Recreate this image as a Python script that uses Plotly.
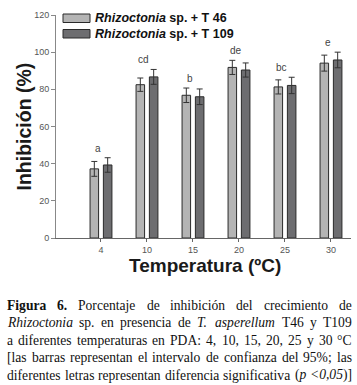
import re
import plotly.graph_objects as go

# ---- data ----
temperaturas = ["4", "10", "15", "20", "25", "30"]
serie_t46 = [37.2, 82.5, 76.8, 91.8, 81.3, 94.1]
error_t46 = [4.0, 3.6, 3.9, 3.8, 3.8, 4.3]
serie_t109 = [39.3, 86.7, 76.0, 90.4, 82.1, 95.8]
error_t109 = [3.9, 4.0, 4.2, 3.8, 4.4, 4.2]
letras = ["a", "cd", "b", "de", "bc", "e"]
nombres = ["<i>Rhizoctonia</i> sp. + T 46", "<i>Rhizoctonia</i> sp. + T 109"]
colores = ["#b4b4b4", "#6d6d70"]
caption_lines = [
    "<b>Figura 6.</b> Porcentaje de inhibición del crecimiento de",
    "<i>Rhizoctonia</i> sp. en presencia de <i>T. asperellum</i> T46 y T109",
    "a diferentes temperaturas en PDA: 4, 10, 15, 20, 25 y 30 °C",
    "[las barras representan el intervalo de confianza del 95%; las",
    "diferentes letras representan diferencia significativa (<i>p <0,05</i>)]",
]

W, H = 357, 385
L, R, T, B = 56, 6, 15, 147
pw, ph = W - L - R, H - T - B

fig = go.Figure()
for vals, errs, col, name in [(serie_t46, error_t46, colores[0], nombres[0]),
                              (serie_t109, error_t109, colores[1], nombres[1])]:
    fig.add_trace(go.Bar(
        x=temperaturas, y=vals, name=name, showlegend=False,
        marker=dict(color=col, line=dict(color="#2a2a2a", width=1)),
        error_y=dict(type="data", array=errs, visible=True, color="#333333",
                     thickness=1, width=3),
    ))

# significance letters
for i, (ltr, a, ea, b, eb) in enumerate(zip(letras, serie_t46, error_t46, serie_t109, error_t109)):
    top = max(a + ea, b + eb)
    fig.add_annotation(x=i, y=top, text=ltr, showarrow=False, xshift=-3, yshift=2,
                       yanchor="bottom", font=dict(size=10, color="#444", family="Liberation Sans"))


def px_x(p):
    return (p - L) / pw


def px_y(p):
    return 1 - (p - T) / ph


# custom legend
for i, (col, name) in enumerate(zip(colores, nombres)):
    y0, y1 = 14 + i * 15.5, 22.5 + i * 15.5
    fig.add_shape(type="rect", xref="paper", yref="paper",
                  x0=px_x(63), x1=px_x(90), y0=px_y(y1), y1=px_y(y0),
                  fillcolor=col, line=dict(color="#2a2a2a", width=1))
    fig.add_annotation(xref="paper", yref="paper", x=px_x(93), y=px_y((y0 + y1) / 2),
                       text="<b>" + name + "</b>", showarrow=False, xanchor="left",
                       yanchor="middle", font=dict(size=12.5, color="#111", family="Liberation Sans"))

# axis titles
fig.add_annotation(xref="paper", yref="paper", x=px_x(23), y=0.5, text="<b>Inhibición (%)</b>",
                   textangle=-90, showarrow=False, xanchor="center", yanchor="middle",
                   font=dict(size=19.5, color="#1a1a1a", family="Liberation Sans"))
fig.add_annotation(xref="paper", yref="paper", x=px_x(205), y=px_y(265), text="<b>Temperatura (ºC)</b>",
                   showarrow=False, xanchor="center", yanchor="middle",
                   font=dict(size=19, color="#1a1a1a", family="Liberation Sans"))

# ---- justified caption (Times metrics, Liberation Serif is metric-compatible) ----
REG = dict(zip("abcdefghijklmnopqrstuvwxyz",
               [444, 500, 444, 500, 444, 333, 500, 500, 278, 278, 500, 278, 778, 500, 500, 500, 500,
                333, 389, 278, 500, 500, 722, 500, 500, 444]))
REG.update({"A": 722, "C": 667, "D": 722, "P": 556, "T": 611, " ": 250, ".": 250, ",": 250,
            ":": 278, ";": 278, "[": 333, "]": 333, "(": 333, ")": 333, "%": 833, "°": 400,
            "ó": 500, "<": 564})
REG.update({d: 500 for d in "0123456789"})
ITA = dict(REG)
ITA.update({"a": 500, "m": 722, "r": 389, "z": 389, "R": 611, "T": 556, "<": 675})
BLD = dict(REG)
BLD.update({"F": 611, "u": 556, "r": 444, "a": 500, "g": 500})
TABLES = {"": REG, "i": ITA, "b": BLD}

CAP_FS = 13.6
CAP_X0, CAP_X1 = 7, 352


def parse(line):
    chars = []
    style = ""
    for tok in re.split(r"(</?[bi]>)", line):
        if re.fullmatch(r"</?[bi]>", tok):
            style = "" if tok.startswith("</") else tok[1]
        else:
            chars.extend((c, style) for c in tok)
    words, cur = [], []
    for c, s in chars:
        if c == " ":
            if cur:
                words.append(cur)
            cur = []
        else:
            cur.append((c, s))
    if cur:
        words.append(cur)
    return words


def word_html(word):
    out, style = "", ""
    for c, s in word:
        if s != style:
            if style:
                out += "</%s>" % style
            if s:
                out += "<%s>" % s
            style = s
        out += "&lt;" if c == "<" else c
    if style:
        out += "</%s>" % style
    return out


def word_width(word):
    return sum(TABLES[s].get(c, 500) for c, s in word) / 1000 * CAP_FS


for li, line in enumerate(caption_lines):
    words = parse(line)
    widths = [word_width(w) for w in words]
    gap = (CAP_X1 - CAP_X0 - sum(widths)) / (len(words) - 1)
    x = CAP_X0
    yc = 305 + li * 17.5
    for w, wd in zip(words, widths):
        fig.add_annotation(xref="paper", yref="paper", x=px_x(x), y=px_y(yc), text=word_html(w),
                           showarrow=False, xanchor="left", yanchor="middle",
                           borderpad=0, borderwidth=0,
                           font=dict(size=CAP_FS, color="#111", family="Liberation Serif"))
        x += wd + gap

fig.update_layout(
    width=W, height=H, margin=dict(l=L, r=R, t=T, b=B),
    paper_bgcolor="white", plot_bgcolor="white",
    barmode="group", bargap=0.42, bargroupgap=0.36,
    xaxis=dict(type="category", range=[-0.978, 5.435], showline=True, linecolor="#666",
               linewidth=1, ticks="outside", ticklen=3, tickcolor="#666",
               tickfont=dict(size=9, color="#555", family="Liberation Sans"), showgrid=False),
    yaxis=dict(range=[0, 120], dtick=20, showline=True, linecolor="#888", linewidth=1,
               ticks="outside", ticklen=4, tickcolor="#888", zeroline=False, showgrid=False,
               tickfont=dict(size=9, color="#555", family="Liberation Sans")),
)
fig.write_html("out.html", config={"displayModeBar": False},
               post_script="document.body.style.margin='0px';")
